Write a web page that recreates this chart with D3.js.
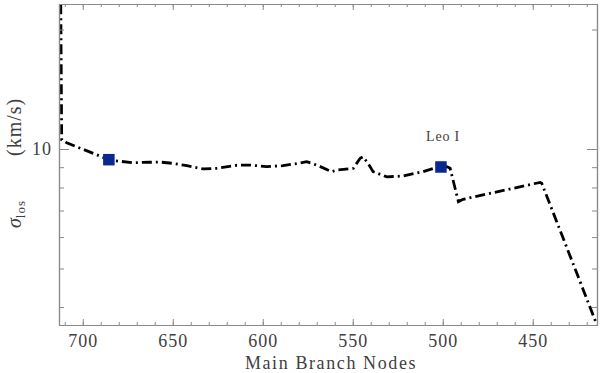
<!DOCTYPE html>
<html><head><meta charset="utf-8">
<script src="https://cdn.jsdelivr.net/npm/d3@7"></script>
<style>body{margin:0;background:#fff}svg{display:block}</style>
</head><body>
<svg id="c" width="600" height="373"></svg>
<script>
// Data: main branch node vs sigma_los (km/s)
const nodes = [712.3, 711.7, 708.9, 685.5, 682.1, 672.1, 662.6, 657.1, 649.8, 642.2, 633.2, 625.6, 614.4, 607.1, 597.8, 588.7, 580.4, 575.6, 570.0, 561.7, 558.9, 549.7, 545.9, 544.3, 541.5, 538.7, 531.1, 522.1, 510.9, 503.3, 501.0, 497.8, 495.9, 491.3, 488.7, 445.9, 445.0, 414.3];
const sigma = [26.0, 10.54, 10.37, 9.40, 9.34, 9.24, 9.26, 9.27, 9.20, 9.08, 8.91, 8.94, 9.10, 9.11, 9.03, 9.08, 9.20, 9.29, 9.11, 8.77, 8.85, 8.94, 9.48, 9.56, 9.20, 8.77, 8.51, 8.55, 8.77, 8.99, 9.01, 9.03, 8.94, 7.37, 7.47, 8.24, 8.20, 3.60];
const markerNodes = [685.5, 501.0];
const markerSigma = [9.40, 9.01];
const annotationText = ["Leo I"];
const xMajorTicks = [700, 650, 600, 550, 500, 450];
const xMinorTicks = d3.range(420, 711, 10);
const yMajorTicks = [10];
const yMinorTicks = [4, 5, 6, 7, 8, 9, 20];

const L = 59, R = 597, T = 4, B = 325;
const svg = d3.select("#c");
const x = d3.scaleLinear().domain([713.2, 414.3]).range([L, R]);
const y = d3.scaleLog().domain([3.603, 23.19]).range([B, T]);

const axisCol = "#8a8a8a", textCol = "#404040";
const font = "'Liberation Serif', 'DejaVu Serif', serif";

svg.append("defs").append("clipPath").attr("id", "clip")
  .append("rect").attr("x", L).attr("y", T).attr("width", R - L).attr("height", B - T);

// line
const line = d3.line().x((d, i) => x(nodes[i])).y((d, i) => y(sigma[i]));
svg.append("path").datum(nodes).attr("clip-path", "url(#clip)")
  .attr("d", line).attr("fill", "none").attr("stroke", "#000")
  .attr("stroke-width", 2.8).attr("stroke-dasharray", "10,4,2,4");

// markers
const ms = 11.5;
svg.selectAll("rect.m").data(markerNodes).enter().append("rect")
  .attr("x", (d) => x(d) - ms / 2).attr("y", (d, i) => y(markerSigma[i]) - ms / 2)
  .attr("width", ms).attr("height", ms).attr("fill", "#0a2890");

// axes
function styleAxis(g) {
  g.select(".domain").attr("stroke", axisCol).attr("stroke-width", 1.2);
  g.selectAll(".tick line").attr("stroke", axisCol).attr("stroke-width", 1);
  g.selectAll("text").attr("fill", textCol).attr("font-family", font).attr("font-size", 18).attr("letter-spacing", 1);
}
// bottom
svg.append("g").attr("transform", `translate(0,${B})`)
  .call(d3.axisBottom(x).tickValues(xMinorTicks).tickSize(-3).tickFormat("").tickSizeOuter(0)).call(styleAxis);
const xb = svg.append("g").attr("transform", `translate(0,${B})`)
  .call(d3.axisBottom(x).tickValues(xMajorTicks).tickSize(-6).tickPadding(9).tickSizeOuter(0)).call(styleAxis);
xb.selectAll("text").attr("dy", null).attr("y", 22);
// top
svg.append("g").attr("transform", `translate(0,${T})`)
  .call(d3.axisTop(x).tickValues(xMinorTicks).tickSize(-3).tickFormat("").tickSizeOuter(0)).call(styleAxis);
svg.append("g").attr("transform", `translate(0,${T})`)
  .call(d3.axisTop(x).tickValues(xMajorTicks).tickSize(-6).tickFormat("").tickSizeOuter(0)).call(styleAxis);
// left
svg.append("g").attr("transform", `translate(${L},0)`)
  .call(d3.axisLeft(y).tickValues(yMinorTicks).tickSize(-5).tickFormat("").tickSizeOuter(0)).call(styleAxis);
svg.append("g").attr("transform", `translate(${L},0)`)
  .call(d3.axisLeft(y).tickValues(yMajorTicks).tickSize(-10).tickPadding(7).tickFormat(d3.format("d")).tickSizeOuter(0)).call(styleAxis);
// right
svg.append("g").attr("transform", `translate(${R},0)`)
  .call(d3.axisRight(y).tickValues(yMinorTicks).tickSize(-5).tickFormat("").tickSizeOuter(0)).call(styleAxis);
svg.append("g").attr("transform", `translate(${R},0)`)
  .call(d3.axisRight(y).tickValues(yMajorTicks).tickSize(-10).tickFormat("").tickSizeOuter(0)).call(styleAxis);

// x title
svg.append("text").attr("x", (L + R) / 2 + 3).attr("y", 369).attr("text-anchor", "middle")
  .attr("fill", textCol).attr("font-family", font).attr("font-size", 18).attr("letter-spacing", 1.6)
  .text("Main Branch Nodes");

// y title
const yt = svg.append("text").attr("transform", `translate(21,228) rotate(-90)`)
  .attr("text-anchor", "start").attr("fill", textCol).attr("font-family", font).attr("font-size", 20);
yt.append("tspan").attr("font-style", "italic").text("σ");
yt.append("tspan").attr("font-size", 13).attr("dy", 4).attr("letter-spacing", 1).text("los");
yt.append("tspan").attr("dy", -4).attr("dx", 44).attr("letter-spacing", 1).text("(km/s)");

// annotation
svg.append("text").attr("x", 443).attr("y", 141).attr("text-anchor", "middle")
  .attr("fill", textCol).attr("font-family", font).attr("font-size", 14).attr("letter-spacing", 0.8)
  .text(annotationText[0]);
</script>
</body></html>
